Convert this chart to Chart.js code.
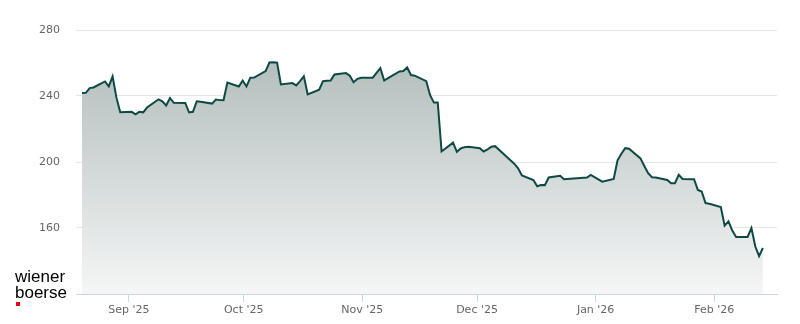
<!DOCTYPE html>
<html><head><meta charset="utf-8">
<script src="https://cdn.jsdelivr.net/npm/chart.js@4.4.1/dist/chart.umd.min.js"></script>
<style>
html,body{margin:0;padding:0;background:#fff;}
#wrap{position:relative;width:800px;height:324px;overflow:hidden;}
canvas{position:absolute;left:0;top:0;}
#logo{position:absolute;left:15px;top:268.5px;font-family:"Liberation Sans",Arial,sans-serif;font-size:17px;line-height:16px;color:#000;}
#logo-dot{position:absolute;left:16px;top:302px;width:4px;height:4px;background:#e30613;}
</style></head>
<body><div id="wrap"><canvas id="c" width="800" height="324"></canvas><div id="logo">wiener<br>boerse</div><div id="logo-dot"></div></div>
<script>
const dates = [
 '2025-08-19','2025-08-20','2025-08-21','2025-08-22','2025-08-25','2025-08-26','2025-08-27','2025-08-28','2025-08-29',
 '2025-09-01','2025-09-02','2025-09-03','2025-09-04','2025-09-05','2025-09-08','2025-09-09','2025-09-10','2025-09-11','2025-09-12',
 '2025-09-15','2025-09-16','2025-09-17','2025-09-18','2025-09-19','2025-09-22','2025-09-23','2025-09-24','2025-09-25','2025-09-26','2025-09-29','2025-09-30',
 '2025-10-01','2025-10-02','2025-10-03','2025-10-06','2025-10-07','2025-10-08','2025-10-09','2025-10-10','2025-10-13','2025-10-14','2025-10-15','2025-10-16','2025-10-17',
 '2025-10-20','2025-10-21','2025-10-22','2025-10-23','2025-10-24','2025-10-27','2025-10-28','2025-10-29','2025-10-30','2025-10-31',
 '2025-11-03','2025-11-04','2025-11-05','2025-11-06','2025-11-07','2025-11-10','2025-11-11','2025-11-12','2025-11-13','2025-11-14',
 '2025-11-17','2025-11-18','2025-11-19','2025-11-20','2025-11-21','2025-11-24','2025-11-25','2025-11-26','2025-11-27','2025-11-28',
 '2025-12-01','2025-12-02','2025-12-03','2025-12-04','2025-12-05','2025-12-08','2025-12-09','2025-12-10','2025-12-11','2025-12-12',
 '2025-12-15','2025-12-16','2025-12-17','2025-12-18','2025-12-19','2025-12-22','2025-12-23','2025-12-29','2025-12-30',
 '2026-01-02','2026-01-05','2026-01-06','2026-01-07','2026-01-08','2026-01-09','2026-01-12','2026-01-13','2026-01-14','2026-01-15','2026-01-16',
 '2026-01-19','2026-01-20','2026-01-21','2026-01-22','2026-01-23','2026-01-26','2026-01-27','2026-01-28','2026-01-29','2026-01-30',
 '2026-02-02','2026-02-03','2026-02-04','2026-02-05','2026-02-06','2026-02-09','2026-02-10','2026-02-11','2026-02-12','2026-02-13'
];
const prices = [
 241.8,241.9,244.8,245.2,248.8,245.8,251.9,239.0,230.2,
 230.4,228.9,230.4,230.1,233.0,238.0,236.8,234.3,238.8,235.9,
 235.8,230.0,230.4,236.8,236.5,235.4,237.8,237.5,237.4,248.2,245.8,249.4,
 245.8,251.1,251.2,255.1,260.3,260.5,260.2,247.0,247.8,246.4,249.0,251.9,241.0,
 243.8,249.0,249.2,249.4,253.1,253.9,252.3,248.4,250.4,251.1,
 251.1,254.0,256.9,249.4,250.8,254.9,255.1,257.3,252.7,252.3,
 249.0,240.5,236.0,236.0,206.4,211.7,206.2,208.2,209.0,209.2,
 208.4,206.4,207.6,209.2,209.6,203.2,201.0,199.0,196.2,191.8,
 189.1,185.3,186.1,186.0,190.6,191.6,189.6,190.6,192.2,
 188.1,189.7,201.0,205.0,208.4,208.0,202.2,197.6,193.2,190.8,190.6,
 189.1,187.1,187.1,192.2,189.7,189.6,183.1,182.1,175.1,174.7,
 172.7,161.4,164.0,158.4,154.6,154.6,160.0,148.9,142.9,147.9
];
const monthTickDates = ['2025-09-01','2025-10-01','2025-11-01','2025-12-01','2026-01-01','2026-02-01'];
const monthTickLabels = ["Sep '25","Oct '25","Nov '25","Dec '25","Jan '26","Feb '26"];
const yTickValues = [160,200,240,280];
const yMin = 120, yMax = 290;

const BASE = Date.UTC(2025,8,1);
function dayOf(s, hours){ return (Date.parse(s+'T00:00:00Z') - BASE)/864e5 + (hours||0)/24; }
const points = dates.map((d,i)=>({x: dayOf(d,17.5), y: prices[i]}));

const ctx = document.getElementById('c').getContext('2d');
new Chart(ctx, {
  type: 'line',
  data: { datasets: [{
    data: points,
    borderColor: '#0f4943',
    borderWidth: 2,
    pointRadius: 0,
    tension: 0,
    fill: 'start',
    backgroundColor: (c) => {
      const a = c.chart.chartArea;
      if (!a) return 'rgba(170,184,182,0.5)';
      const g = c.chart.ctx.createLinearGradient(0, a.top, 0, a.bottom);
      g.addColorStop(0, 'rgb(166,180,178)');
      g.addColorStop(1, 'rgb(245,246,246)');
      return g;
    }
  }]},
  options: {
    responsive: false,
    animation: false,
    devicePixelRatio: 1,
    layout: { padding: { top: 13.5, right: 23, left: 0, bottom: 0 } },
    plugins: { legend: { display: false }, tooltip: { enabled: false } },
    scales: {
      x: {
        type: 'linear',
        min: dayOf('2025-08-18', 3.8),
        max: dayOf('2026-02-17', 10),
        afterBuildTicks: s => { s.ticks = monthTickDates.map(d => ({ value: dayOf(d) })); },
        afterFit: s => { s.height = 30; s.paddingLeft = 0; s.paddingRight = 0; },
        ticks: {
          autoSkip: false, maxRotation: 0, padding: 2,
          color: '#666666',
          font: { family: 'DejaVu Sans', size: 11 },
          callback: (v, i) => monthTickLabels[i]
        },
        grid: { drawOnChartArea: false, drawTicks: true, tickLength: 8, color: '#ccd6eb', lineWidth: 1 },
        border: { display: true, color: '#ccd6eb', width: 1 }
      },
      y: {
        min: yMin, max: yMax,
        afterBuildTicks: s => { s.ticks = yTickValues.map(v => ({ value: v })); },
        afterFit: s => { s.width = 76; s.paddingTop = 0; s.paddingBottom = 0; },
        ticks: { padding: 16, color: '#666666', font: { family: 'DejaVu Sans', size: 11 } },
        grid: { color: '#e6e6e6', lineWidth: 1, drawTicks: false },
        border: { display: false }
      }
    }
  }
});
</script>
</body></html>
